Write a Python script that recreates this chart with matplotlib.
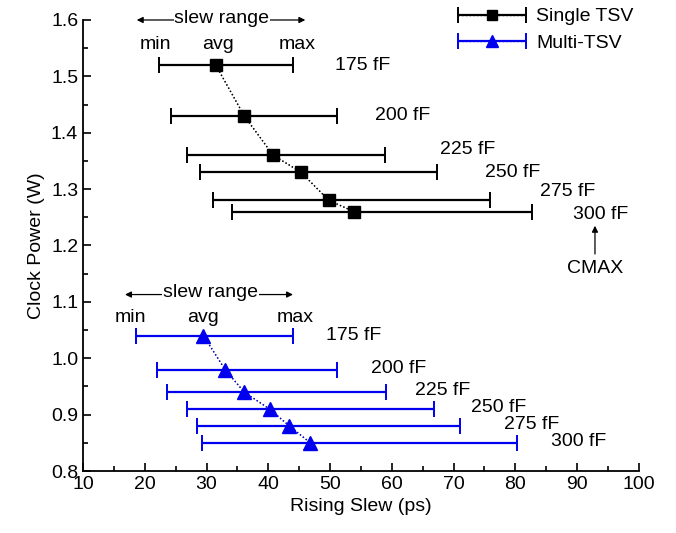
import matplotlib
matplotlib.use("Agg")
import matplotlib.pyplot as plt
from matplotlib.ticker import MultipleLocator
from matplotlib.legend_handler import HandlerErrorbar
from matplotlib.container import ErrorbarContainer

plt.rcParams['font.family'] = ['Liberation Sans', 'DejaVu Sans']

caps = ["175 fF", "200 fF", "225 fF", "250 fF", "275 fF", "300 fF"]

single_avg = [31.5, 36.1, 40.8, 45.3, 49.8, 53.9]
single_min = [22.3, 24.3, 26.8, 28.95, 31.1, 34.2]
single_max = [44.0, 51.2, 58.9, 67.3, 75.9, 82.7]
single_pow = [1.52, 1.43, 1.36, 1.33, 1.28, 1.26]

multi_avg = [29.5, 33.0, 36.1, 40.2, 43.4, 46.8]
multi_min = [18.6, 21.9, 23.6, 26.8, 28.4, 29.2]
multi_max = [44.0, 51.2, 59.0, 66.9, 71.0, 80.2]
multi_pow = [1.04, 0.98, 0.94, 0.91, 0.88, 0.85]

single_lbl_x = [50.8, 57.3, 67.8, 75.1, 84.0, 89.4]
single_lbl_y = [1.52, 1.43, 1.37, 1.33, 1.295, 1.255]
multi_lbl_x = [49.4, 56.6, 63.8, 72.8, 78.2, 85.7]
multi_lbl_y = [1.04, 0.982, 0.943, 0.913, 0.882, 0.852]

fig = plt.figure(figsize=(6.76, 5.33), dpi=100)
ax = fig.add_axes([0.1228, 0.1163, 0.8222, 0.8462])

FS = 14

def draw(avg, mn, mx, pw, color, marker, ms, label):
    xerr = [[a - m for a, m in zip(avg, mn)], [m - a for a, m in zip(avg, mx)]]
    return ax.errorbar(avg, pw, xerr=xerr, fmt=marker, color=color, ms=ms,
                       ecolor=color, elinewidth=1.6, capsize=5.5, capthick=1.4,
                       linestyle=':', linewidth=1.0, label=label, zorder=3)

draw(single_avg, single_min, single_max, single_pow, 'black', 's', 8.5, 'Single TSV')
draw(multi_avg, multi_min, multi_max, multi_pow, '#0000ee', '^', 10, 'Multi-TSV')

# dotted connecting lines in gray
ax.plot(single_avg, single_pow, linestyle=':', color='#555555', lw=1.0, zorder=2)
ax.plot(multi_avg, multi_pow, linestyle=':', color='#555555', lw=1.0, zorder=2)

for t, x, y in zip(caps, single_lbl_x, single_lbl_y):
    ax.text(x, y, t, fontsize=FS, va='center', ha='left')
for t, x, y in zip(caps, multi_lbl_x, multi_lbl_y):
    ax.text(x, y, t, fontsize=FS, va='center', ha='left')

def slew(xc, y, xl, xr, ymn, xmin_t, xavg_t, xmax_t):
    ax.text(xc, y, "slew range", fontsize=FS, ha='center', va='center',
            bbox=dict(facecolor='white', edgecolor='none', pad=0.5), zorder=4)
    for xe in (xl, xr):
        ax.annotate("", xy=(xe, y - 0.003), xytext=(xc, y - 0.003),
                    arrowprops=dict(arrowstyle='-|>', color='black', lw=0.9,
                                    mutation_scale=9, shrinkA=0, shrinkB=0), zorder=3)
    ax.text(xmin_t, ymn, "min", fontsize=FS, ha='center', va='center')
    ax.text(xavg_t, ymn, "avg", fontsize=FS, ha='center', va='center')
    ax.text(xmax_t, ymn, "max", fontsize=FS, ha='center', va='center')

slew(32.5, 1.603, 18.7, 46.0, 1.557, 21.7, 31.9, 44.6)
slew(30.6, 1.116, 16.8, 44.0, 1.073, 17.7, 29.4, 44.3)

ax.annotate("", xy=(92.9, 1.235), xytext=(92.9, 1.185),
            arrowprops=dict(arrowstyle='-|>', color='black', lw=0.9,
                            mutation_scale=9, shrinkA=0, shrinkB=0))
ax.text(92.9, 1.16, "CMAX", fontsize=FS, ha='center', va='center')

ax.set_xlim(10, 100)
ax.set_ylim(0.8, 1.6)
ax.xaxis.set_major_locator(MultipleLocator(10))
ax.xaxis.set_minor_locator(MultipleLocator(5))
ax.yaxis.set_major_locator(MultipleLocator(0.1))
ax.yaxis.set_minor_locator(MultipleLocator(0.05))
ax.tick_params(which='both', direction='in', top=False, right=False, labelsize=FS, width=1.2)
ax.tick_params(which='major', length=6)
ax.tick_params(which='minor', length=3.5)
for s in ['top', 'right']:
    ax.spines[s].set_visible(False)
for s in ['left', 'bottom']:
    ax.spines[s].set_linewidth(1.3)

ax.set_xlabel("Rising Slew (ps)", fontsize=FS)
ax.set_ylabel("Clock Power (W)", fontsize=FS)

ax.legend(loc='upper right', bbox_to_anchor=(1.022, 1.066), frameon=False, fontsize=FS,
          handlelength=3.5, handletextpad=0.5, labelspacing=0.45, markerscale=0.85,
          handler_map={ErrorbarContainer: HandlerErrorbar(xerr_size=1.75)})

fig.savefig("out.png", dpi=100)
